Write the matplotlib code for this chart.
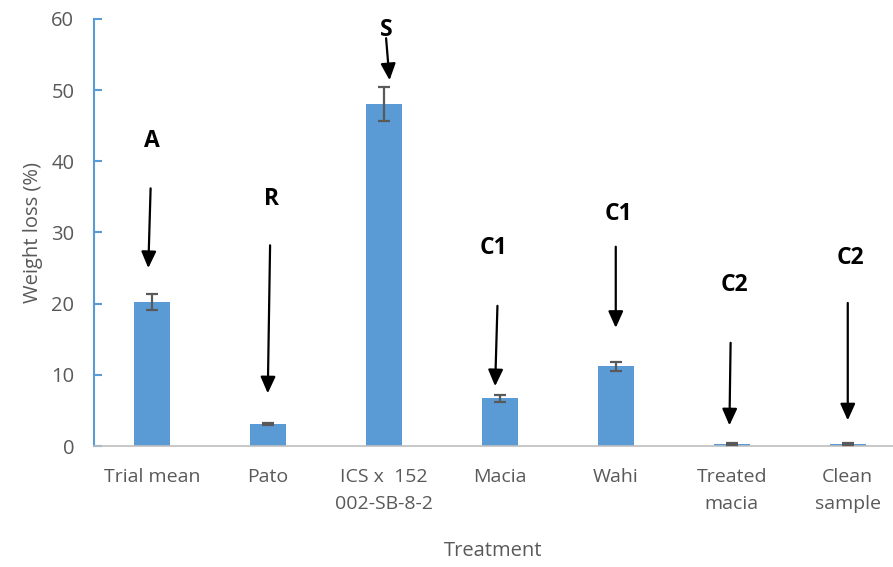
import matplotlib.pyplot as plt

categories = ["Trial mean", "Pato", "ICS x  152\n002-SB-8-2", "Macia", "Wahi",
              "Treated\nmacia", "Clean\nsample"]
weight_loss = [20.2, 3.1, 48.1, 6.7, 11.2, 0.3, 0.3]
errors = [1.1, 0.2, 2.4, 0.5, 0.6, 0.1, 0.1]
letters = ["A", "R", "S", "C1", "C1", "C2", "C2"]

# annotation layout (data units): text y, arrow start y, arrow end y, x offsets
text_y = [42.8, 34.7, 58.4, 27.8, 32.6, 22.6, 26.4]
arrow_from = [36.2, 28.2, 57.3, 19.7, 28.0, 14.5, 20.1]
arrow_to = [25.0, 7.4, 51.4, 8.4, 16.6, 2.9, 3.6]
x_from = [-0.01, 0.02, 0.02, -0.02, 0.0, -0.01, 0.0]
x_to = [-0.03, 0.0, 0.05, -0.04, 0.0, -0.02, 0.0]
text_dx = [0.0, 0.03, 0.02, -0.05, 0.02, 0.02, 0.02]

plt.rcParams['font.family'] = ['Open Sans', 'DejaVu Sans']

fig = plt.figure(figsize=(8.93, 5.67), dpi=100)
ax = fig.add_axes([0.105, 0.2134, 0.895, 0.7531])

x = list(range(len(categories)))
ax.bar(x, weight_loss, width=0.31, color="#5B9BD5", zorder=2)
ax.errorbar(x, weight_loss, yerr=errors, fmt="none", ecolor="#595959",
            elinewidth=1.6, capsize=4.5, capthick=1.6, zorder=3)

for i, lab in enumerate(letters):
    ax.text(i + text_dx[i], text_y[i], lab, ha="center", va="center",
            fontsize=16.5, fontweight="bold", color="black")
    ax.annotate("", xy=(i + x_to[i], arrow_to[i]), xytext=(i + x_from[i], arrow_from[i]),
                arrowprops=dict(arrowstyle="-|>,head_length=1.0,head_width=0.45",
                                color="black", lw=1.6, shrinkA=0, shrinkB=0))

ax.set_ylim(0, 60)
ax.set_yticks(range(0, 61, 10))
ax.set_xlim(-0.5, 6.39)
ax.set_xticks(x)
ax.set_xticklabels(categories, fontsize=14, color="#595959", linespacing=1.65)
ax.tick_params(axis="x", length=0, pad=16)
ax.tick_params(axis="y", direction="in", length=6, color="#5B9BD5", width=1.5,
               labelsize=14.5, labelcolor="#595959", pad=14)

for side in ["top", "right"]:
    ax.spines[side].set_visible(False)
ax.spines["left"].set_color("#5B9BD5")
ax.spines["left"].set_linewidth(1.5)
ax.spines["bottom"].set_color("#BFBFBF")
ax.spines["bottom"].set_linestyle((0, (1, 1)))
ax.spines["bottom"].set_linewidth(1.2)

ax.set_ylabel("Weight loss (%)", fontsize=14.5, color="#595959", labelpad=6)
ax.set_xlabel("Treatment", fontsize=14.5, color="#595959", labelpad=20)

fig.savefig("out.png", dpi=100)
